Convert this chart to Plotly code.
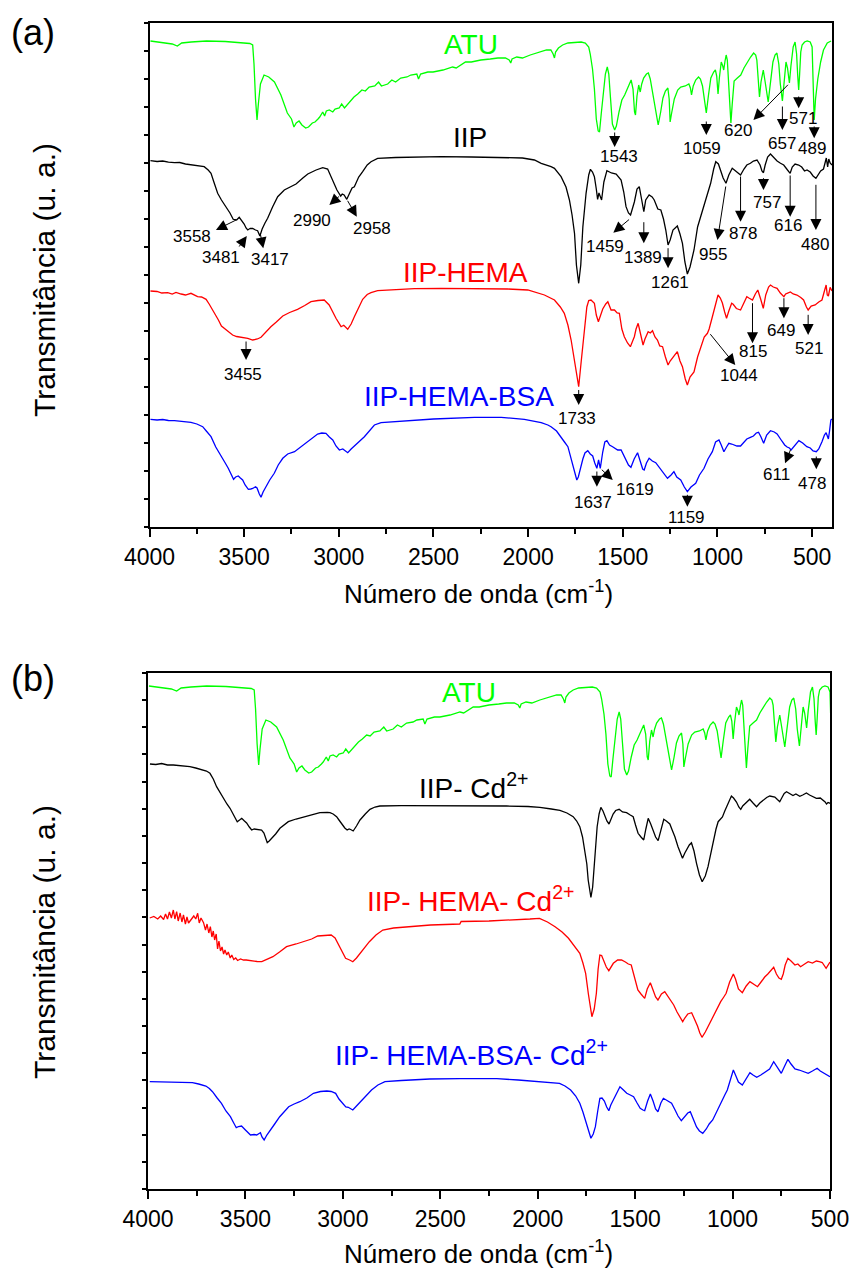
import plotly.graph_objects as go

# ---------------------------------------------------------------
# FTIR spectra: (wavenumber cm-1, transmittance in arbitrary units)
# ---------------------------------------------------------------

ATU = [
    (3995, 503), (3960, 502), (3920, 501), (3880, 500), (3853, 498), (3830, 501),
    (3780, 502), (3699, 503), (3600, 502.5), (3528, 501.7), (3470, 500.5), (3455, 499),
    (3448, 480), (3440, 445), (3432, 424), (3425, 440), (3414, 460), (3395, 469),
    (3370, 467), (3340, 462), (3306, 449), (3272, 431), (3250, 425), (3237, 417),
    (3225, 421), (3210, 423), (3195, 419), (3175, 416), (3160, 417), (3140, 421),
    (3126, 422), (3110, 425), (3101, 427), (3085, 432), (3075, 428), (3066, 433),
    (3050, 434), (3032, 432), (3020, 435), (2998, 436), (2985, 440), (2970, 436),
    (2947, 441), (2920, 447), (2900, 450), (2878, 454), (2860, 453), (2840, 457),
    (2810, 458), (2790, 462), (2775, 458), (2742, 460), (2720, 464), (2700, 462),
    (2673, 466), (2640, 467), (2620, 469), (2600, 470), (2588, 470), (2579, 465),
    (2568, 470), (2530, 472), (2502, 472), (2450, 474), (2399, 477), (2380, 476),
    (2331, 482), (2300, 482), (2250, 484), (2200, 485), (2160, 486), (2120, 486),
    (2100, 484), (2092, 481), (2085, 485), (2060, 487), (2030, 486), (1989, 489),
    (1940, 492), (1903, 494), (1880, 494), (1868, 490), (1861, 486), (1855, 492),
    (1840, 496), (1818, 499), (1790, 501), (1750, 502), (1720, 502), (1698, 501),
    (1680, 497), (1672, 490), (1660, 475), (1650, 455), (1640, 425), (1630, 413),
    (1623, 412), (1614, 430), (1604, 452), (1592, 470), (1582, 477), (1574, 470),
    (1565, 446), (1555, 420), (1543, 414), (1534, 418), (1520, 432), (1505, 444),
    (1490, 449), (1470, 458), (1456, 464), (1446, 455), (1438, 432), (1433, 429),
    (1425, 448), (1416, 459), (1408, 452), (1400, 460), (1390, 466), (1375, 470),
    (1365, 471), (1355, 465), (1343, 452), (1328, 432), (1313, 419), (1300, 432),
    (1288, 446), (1275, 453), (1262, 456), (1255, 445), (1250, 422), (1243, 430),
    (1228, 445), (1210, 454), (1194, 457), (1170, 458), (1151, 460), (1143, 456),
    (1137, 449), (1128, 458), (1115, 464), (1100, 467), (1090, 465), (1079, 458),
    (1070, 444), (1059, 431), (1048, 448), (1035, 466), (1020, 472), (1011, 474),
    (1004, 468), (997, 450), (990, 466), (980, 482), (972, 478), (967, 474),
    (960, 483), (954, 489), (948, 484), (943, 468), (936, 440), (929, 421),
    (922, 440), (912, 463), (895, 466), (877, 469), (860, 476), (843, 482),
    (825, 487), (809, 491), (798, 489), (792, 484), (785, 465), (778, 447),
    (770, 462), (758, 474), (748, 462), (740, 450), (732, 442), (724, 455),
    (715, 472), (707, 482), (696, 489), (686, 491), (676, 480), (668, 460),
    (657, 443), (650, 458), (645, 472), (638, 482), (630, 476), (620, 461),
    (612, 478), (600, 497), (590, 502), (582, 490), (576, 468), (571, 454),
    (566, 470), (560, 492), (553, 499), (540, 502), (526, 503), (510, 502),
    (500, 497), (494, 460), (489, 424), (482, 445), (470, 465), (455, 482),
    (440, 494), (420, 501), (400, 503),
]

IIP = [
    (3995, 366.3), (3960, 365.5), (3930, 366), (3900, 364.8), (3868, 364.3), (3840, 364.5),
    (3810, 363), (3781, 362), (3750, 361.5), (3711, 360.3), (3690, 357), (3675, 353.7),
    (3660, 345), (3640, 333.7), (3620, 327), (3596, 320.3), (3575, 314), (3558, 307.7),
    (3540, 307), (3526, 309.7), (3512, 306), (3500, 303), (3490, 299), (3481, 297),
    (3468, 298.7), (3455, 298.5), (3440, 297), (3429, 296.3), (3417, 291), (3405, 298),
    (3390, 304), (3376, 308.7), (3350, 320), (3323, 330.3), (3288, 337), (3260, 340),
    (3226, 343), (3190, 349), (3164, 353), (3120, 357), (3085, 359.3), (3059, 358),
    (3040, 350), (3023, 343.7), (3010, 337), (2990, 331), (2982, 333), (2972, 332),
    (2958, 327.7), (2945, 333), (2930, 339), (2918, 340.3), (2895, 350), (2874, 355.3),
    (2850, 362), (2830, 365.3), (2795, 368.7), (2700, 369.5), (2600, 370), (2460, 370.3),
    (2300, 370), (2108, 369.7), (2030, 369), (1967, 367), (1931, 363.7), (1879, 360.3),
    (1861, 358.7), (1826, 350.3), (1800, 340), (1782, 327), (1768, 312), (1755, 293.7),
    (1745, 262), (1733, 243.7), (1722, 262), (1711, 300), (1700, 325), (1694, 333.7),
    (1680, 352), (1671, 357.7), (1660, 355), (1650, 350.3), (1640, 338), (1633, 327.7),
    (1626, 334), (1619, 330), (1612, 327), (1600, 345), (1584, 356.3), (1560, 354),
    (1535, 353), (1509, 347), (1495, 335), (1483, 320.3), (1470, 314), (1459, 312),
    (1449, 318), (1439, 325), (1425, 338), (1413, 340.3), (1400, 327), (1389, 315.3),
    (1379, 327), (1361, 332), (1345, 330), (1334, 327), (1315, 318), (1299, 317),
    (1285, 308), (1273, 297), (1261, 282), (1250, 287), (1235, 297), (1212, 301),
    (1198, 293), (1185, 283.7), (1172, 265), (1159, 253), (1145, 260), (1124, 277),
    (1105, 300), (1088, 310.3), (1062, 327.7), (1036, 343.7), (1020, 358), (1009, 365.3),
    (995, 363), (983, 357), (970, 349), (955, 343.7), (940, 352), (922, 358.7),
    (905, 356), (890, 354), (878, 352), (860, 358), (845, 362), (826, 363.7),
    (810, 366), (791, 367), (775, 362), (765, 356), (757, 354.3), (748, 362),
    (735, 370), (720, 373), (700, 369), (685, 366), (667, 363.7), (650, 362),
    (630, 357), (616, 353.7), (605, 360), (590, 363), (571, 362), (555, 360),
    (540, 356), (527, 357), (510, 355), (495, 351), (480, 348.7), (470, 352),
    (455, 356), (440, 358), (430, 366), (425, 369), (418, 360), (412, 368),
    (405, 364), (395, 362),
]

IIP_HEMA = [
    (3995, 236), (3960, 235.5), (3935, 234), (3904, 234.3), (3880, 233), (3860, 234.5),
    (3833, 233), (3810, 232), (3781, 233.7), (3765, 232), (3746, 230.3), (3725, 230),
    (3701, 227.7), (3685, 223), (3666, 217), (3650, 212), (3636, 207), (3620, 201),
    (3605, 198.7), (3585, 195), (3561, 192), (3540, 190.5), (3516, 189.7), (3481, 188.7),
    (3455, 187), (3430, 188), (3411, 189.7), (3385, 195), (3359, 200.3), (3330, 205),
    (3296, 211), (3260, 214.5), (3218, 217.7), (3180, 221.5), (3147, 225.3), (3110, 226.5),
    (3077, 227), (3051, 222), (3030, 214), (3015, 208.7), (2988, 200.3), (2974, 201.7),
    (2953, 197.7), (2935, 203), (2918, 210.3), (2895, 220), (2874, 227.7), (2850, 232.5),
    (2830, 234.3), (2795, 236.3), (2700, 237.5), (2600, 238.3), (2460, 238.7), (2300, 238.5),
    (2108, 238), (2002, 237), (1950, 234.5), (1914, 232), (1861, 227), (1830, 220),
    (1809, 213.7), (1790, 202), (1773, 187), (1760, 172), (1747, 160.3), (1733, 140.3),
    (1720, 165), (1703, 200), (1690, 220), (1680, 226.5), (1668, 227), (1650, 223.7),
    (1640, 212), (1629, 205.3), (1618, 212), (1606, 218), (1590, 223), (1579, 225.3),
    (1562, 217), (1544, 217), (1530, 214), (1518, 213.7), (1505, 198), (1492, 190.3),
    (1475, 184), (1460, 180.3), (1448, 186), (1439, 190.3), (1430, 198), (1419, 203.7),
    (1405, 192), (1393, 182), (1383, 188), (1366, 195.3), (1355, 194), (1343, 196.3),
    (1330, 190), (1317, 187), (1305, 181), (1290, 180.3), (1275, 170), (1261, 162),
    (1250, 166), (1238, 168.7), (1225, 172), (1212, 175.3), (1198, 166), (1185, 160.3),
    (1170, 148), (1159, 142), (1145, 150), (1124, 155), (1105, 170), (1088, 180.3),
    (1070, 190), (1053, 193.7), (1044, 198), (1030, 208), (1018, 217), (1008, 226),
    (997, 232), (985, 229), (974, 224), (962, 215), (952, 208.7), (940, 216),
    (925, 223.7), (917, 222.7), (900, 218.5), (878, 217), (860, 225), (845, 230.3),
    (834, 229), (815, 227), (800, 233), (787, 237), (772, 228), (758, 218.7),
    (745, 232), (730, 240), (720, 242), (705, 240), (685, 238.7), (668, 234),
    (649, 230.3), (640, 233), (632, 233.7), (615, 235), (600, 233), (580, 232),
    (560, 229.5), (545, 227), (530, 220), (521, 217), (505, 221), (484, 222),
    (465, 225), (448, 227), (435, 236), (426, 242), (420, 232), (414, 231),
    (405, 239.7), (395, 236),
]

IIP_HEMA_BSA = [
    (3995, 107.7), (3960, 107), (3930, 107.5), (3900, 106.5), (3868, 106.3), (3830, 105.5),
    (3781, 104.7), (3750, 103), (3719, 100.3), (3700, 96), (3675, 90.3), (3650, 80),
    (3622, 70.3), (3600, 64), (3584, 58.7), (3570, 53), (3556, 47.7), (3545, 50),
    (3531, 51), (3520, 49), (3508, 47), (3495, 42), (3478, 37.7), (3465, 38),
    (3455, 38.5), (3440, 40.3), (3432, 39), (3420, 33), (3411, 29.7), (3400, 35),
    (3385, 40.3), (3365, 47), (3341, 53.7), (3320, 62), (3296, 68.7), (3270, 73),
    (3234, 75.3), (3200, 80), (3164, 85.3), (3140, 89), (3112, 93), (3090, 94),
    (3068, 93.7), (3050, 90), (3032, 87), (3015, 81), (2997, 77), (2979, 78),
    (2965, 76), (2953, 74.3), (2935, 78), (2918, 80.7), (2895, 85), (2865, 90.3),
    (2840, 96), (2812, 102), (2777, 104.3), (2700, 105.5), (2635, 106.3), (2500, 108),
    (2283, 109.7), (2142, 109.7), (2020, 107.7), (1931, 104.3), (1896, 102), (1879, 100.3),
    (1850, 96), (1826, 90.3), (1808, 85), (1790, 80.3), (1775, 70), (1764, 62),
    (1752, 52), (1743, 47), (1735, 50), (1727, 57), (1711, 68), (1700, 74),
    (1685, 76.3), (1672, 73), (1659, 71), (1648, 64), (1637, 58.7), (1628, 67),
    (1619, 58.7), (1606, 75), (1595, 85), (1584, 86.3), (1570, 82), (1554, 80.3),
    (1540, 79), (1527, 77), (1509, 77), (1495, 71), (1483, 67), (1470, 62),
    (1457, 59.7), (1440, 68), (1422, 74.3), (1405, 64), (1395, 58), (1387, 57),
    (1375, 64), (1361, 68.7), (1344, 66), (1326, 64.3), (1310, 60), (1299, 57),
    (1280, 52), (1264, 48.7), (1245, 52), (1230, 55.3), (1215, 50), (1194, 47),
    (1175, 40), (1159, 35.3), (1140, 40), (1115, 43.7), (1095, 52), (1071, 58.7),
    (1050, 68), (1027, 75.3), (1010, 85), (992, 87), (980, 82), (966, 75.3),
    (952, 80), (940, 83.7), (925, 83), (913, 82), (897, 81), (878, 81),
    (860, 85), (845, 88), (826, 89.7), (810, 91), (795, 94), (783, 94.7),
    (770, 90), (756, 83.7), (740, 92), (720, 96.3), (700, 95), (685, 93),
    (660, 86), (645, 82), (632, 80), (620, 79), (611, 77), (598, 80),
    (585, 84), (570, 86.3), (550, 84), (528, 80.3), (510, 79), (495, 76),
    (478, 75.3), (465, 78), (448, 85.3), (435, 92), (426, 94.3), (414, 88),
    (408, 96), (401, 107), (395, 108),
]

IIP_CD = [
    (3990, 425), (3960, 424.5), (3930, 425.5), (3900, 424), (3870, 424), (3840, 423.5),
    (3810, 422.8), (3785, 422.3), (3755, 421), (3725, 419.7), (3700, 418), (3682, 415.7),
    (3665, 410), (3648, 402.3), (3630, 396), (3614, 390.7), (3595, 385), (3579, 380.7),
    (3560, 374), (3542, 367.3), (3530, 369), (3519, 370.7), (3505, 368), (3494, 366),
    (3480, 362), (3468, 359), (3455, 360), (3442, 359.5), (3430, 359), (3417, 359),
    (3405, 356), (3396, 351), (3388, 346.3), (3378, 348), (3365, 350.7), (3345, 355),
    (3323, 360.7), (3300, 364), (3280, 367.3), (3240, 370), (3203, 371.7), (3160, 374),
    (3118, 376.3), (3080, 376.5), (3066, 376.3), (3050, 375), (3032, 372.3), (3020, 369),
    (3006, 365), (2990, 361), (2978, 359), (2968, 360), (2960, 359.5), (2947, 358),
    (2930, 363), (2912, 369), (2885, 375), (2861, 379.7), (2835, 382), (2810, 383),
    (2700, 383.3), (2502, 383.3), (2300, 383), (2160, 383), (2050, 382.5), (1989, 381.7),
    (1930, 380), (1886, 378.7), (1850, 376), (1818, 372.3), (1800, 368), (1784, 362.3),
    (1770, 352), (1758, 339), (1748, 325), (1741, 309), (1727, 291.7), (1718, 302),
    (1712, 319), (1703, 342), (1695, 362.3), (1685, 375), (1676, 381.7), (1665, 378),
    (1656, 374), (1645, 368), (1634, 365), (1623, 370), (1613, 375), (1600, 378.5),
    (1582, 379.7), (1565, 377), (1544, 376.3), (1525, 374), (1510, 372.3), (1498, 364),
    (1485, 355.7), (1470, 352), (1456, 349), (1445, 360), (1433, 370.7), (1420, 365),
    (1408, 359), (1395, 352), (1382, 348.3), (1368, 360), (1353, 369.7), (1340, 368),
    (1322, 365), (1310, 359), (1296, 352.3), (1280, 342.3), (1268, 336), (1257, 330.7),
    (1245, 336), (1233, 340.7), (1222, 344), (1211, 346.3), (1198, 338), (1185, 325.7),
    (1170, 314), (1156, 307.3), (1140, 313), (1126, 322.3), (1112, 336), (1100, 349),
    (1085, 360), (1074, 367.3), (1060, 371), (1052, 372), (1040, 378), (1031, 382.3),
    (1018, 389), (1006, 393), (995, 391), (980, 387), (968, 382), (958, 379.7),
    (948, 383), (937, 385), (925, 387.5), (912, 389.7), (895, 386), (877, 382.3),
    (860, 386), (843, 389), (825, 391.5), (809, 393), (795, 392.5), (783, 392),
    (770, 389.5), (758, 387.3), (745, 392), (735, 395.5), (723, 397.3), (705, 395),
    (690, 393.5), (675, 395), (655, 392.7), (640, 394), (621, 396), (605, 394),
    (590, 392.5), (570, 390.7), (550, 391), (536, 389), (525, 387), (518, 385),
    (510, 386.5), (500, 385.7),
]

IIP_HEMA_CD = [
    (3991, 271), (3970, 272.5), (3950, 270), (3935, 273), (3920, 269.5), (3910, 275),
    (3900, 270), (3890, 277), (3880, 271), (3870, 279), (3862, 270), (3853, 277.3),
    (3845, 268), (3835, 276), (3826, 267), (3818, 274), (3808, 265), (3800, 272),
    (3792, 266), (3785, 268), (3775, 271), (3765, 273), (3755, 270), (3745, 275.7),
    (3737, 266), (3728, 271), (3715, 266.3), (3705, 259), (3697, 265), (3688, 256),
    (3680, 262.3), (3672, 252), (3665, 258), (3658, 249), (3650, 255), (3643, 240),
    (3636, 248), (3628, 238), (3620, 242), (3612, 235), (3605, 239), (3596, 234),
    (3588, 237), (3578, 231), (3570, 234), (3560, 229.5), (3550, 231), (3540, 228.5),
    (3525, 230), (3510, 229), (3496, 229), (3470, 228), (3440, 227.5), (3416, 227.3),
    (3390, 229.5), (3359, 232.3), (3325, 237), (3289, 242.3), (3240, 245), (3198, 247.3),
    (3160, 250), (3129, 253), (3095, 253.7), (3060, 254), (3040, 251), (3025, 245.7),
    (3005, 238), (2986, 230.7), (2965, 229), (2949, 227.3), (2930, 231), (2910, 235.7),
    (2885, 242), (2864, 247.3), (2830, 254), (2795, 259), (2740, 261), (2669, 262.3),
    (2550, 264), (2400, 265), (2393, 267.5), (2250, 268), (2094, 269), (2040, 270),
    (1991, 270.7), (1950, 267), (1911, 262.3), (1875, 257), (1842, 250.7), (1810, 243),
    (1784, 235.7), (1768, 226), (1754, 215.7), (1740, 195), (1722, 172.3), (1710, 180),
    (1699, 195.7), (1690, 220), (1681, 234), (1672, 233.5), (1660, 228), (1648, 222),
    (1635, 218.3), (1625, 222), (1612, 225.7), (1590, 229), (1570, 229), (1550, 227),
    (1535, 225), (1520, 224), (1505, 212), (1486, 199), (1470, 195), (1451, 190.7),
    (1438, 200), (1422, 206.3), (1410, 200), (1395, 192), (1383, 189), (1365, 195),
    (1348, 197.3), (1330, 192), (1315, 187.5), (1302, 184), (1285, 177), (1270, 172),
    (1256, 167.3), (1245, 171), (1230, 175), (1210, 176.3), (1195, 170), (1180, 163),
    (1168, 156), (1157, 151.7), (1140, 157), (1125, 163), (1107, 169), (1085, 178),
    (1061, 187.3), (1045, 192), (1033, 195.7), (1015, 207), (996, 215), (985, 210),
    (970, 200), (950, 196.3), (930, 203), (911, 207.3), (890, 205), (872, 202.3),
    (850, 208), (835, 212), (819, 215), (800, 219), (789, 221.7), (775, 215),
    (762, 211), (750, 209.7), (740, 215), (730, 224), (716, 230.7), (700, 228),
    (680, 224), (665, 225), (651, 222.3), (630, 225), (612, 227.3), (590, 226),
    (570, 228), (555, 227.3), (540, 226.5), (520, 220.7), (510, 224), (500, 227),
]

IIP_HEMA_BSA_CD = [
    (3991, 107.3), (3950, 107), (3900, 106.8), (3850, 106.5), (3800, 106.5), (3772, 106.3),
    (3740, 105), (3703, 103), (3685, 100.5), (3669, 97.3), (3645, 91), (3623, 85.7),
    (3600, 78), (3577, 72.3), (3560, 66), (3547, 61.3), (3535, 62.5), (3520, 63),
    (3500, 59), (3474, 54), (3455, 54.5), (3442, 54), (3430, 55.5), (3423, 56.3),
    (3415, 52), (3404, 49), (3390, 54), (3377, 57.3), (3350, 65), (3324, 72.3),
    (3300, 78), (3278, 82.3), (3250, 85), (3221, 87.3), (3185, 91), (3151, 95.7),
    (3115, 97.5), (3082, 98), (3060, 97.5), (3037, 95.7), (3020, 90), (3002, 85.7),
    (2985, 82), (2972, 81.7), (2960, 80), (2949, 79), (2930, 83), (2910, 87.3),
    (2880, 93), (2853, 99), (2820, 104), (2784, 107.3), (2700, 108.5), (2554, 110),
    (2400, 110.3), (2210, 110.3), (2100, 109), (1980, 107.3), (1930, 107), (1888, 105.7),
    (1860, 103), (1831, 99), (1805, 93), (1784, 85.7), (1768, 77), (1750, 65.7),
    (1738, 56), (1727, 50.7), (1715, 55), (1704, 62.3), (1692, 78), (1681, 90.7),
    (1670, 91), (1658, 88), (1646, 82), (1635, 78.3), (1625, 84), (1612, 89),
    (1595, 97), (1578, 102.3), (1560, 99), (1543, 95.7), (1525, 94), (1508, 92.3),
    (1490, 86), (1474, 80.7), (1460, 79), (1451, 78.3), (1436, 88), (1422, 95),
    (1408, 88), (1395, 80), (1383, 77.3), (1368, 86), (1355, 90.7), (1335, 88),
    (1313, 85.7), (1295, 79), (1280, 73), (1263, 68.3), (1245, 72), (1230, 76),
    (1217, 77.3), (1200, 68), (1185, 62), (1170, 58), (1153, 55.7), (1135, 60),
    (1120, 65), (1102, 69), (1080, 78), (1056, 89), (1040, 94), (1027, 99),
    (1010, 110), (996, 119), (985, 114), (970, 107), (950, 104), (930, 110),
    (911, 116.3), (895, 114), (876, 111.7), (855, 114), (830, 117.3), (810, 120),
    (789, 127.3), (770, 121), (750, 115.7), (735, 122), (716, 129.7), (700, 125),
    (680, 120), (658, 119), (635, 117), (612, 115.7), (590, 118), (566, 120.7),
    (550, 118), (532, 115.7), (515, 114), (500, 112.3),
]

# vertical stacking offset of the ATU reference spectrum in panel (a)
ATU_SHIFT_A = -17

GREEN, RED, BLUE, BLACK = "#00ff00", "#ff0000", "#0000ff", "#000000"
FONT = "Arial, Liberation Sans, sans-serif"

fig = go.Figure()


def add_spectrum(spec, color, xa, ya, shift=0.0):
    fig.add_trace(go.Scatter(
        x=[p[0] for p in spec], y=[p[1] + shift for p in spec],
        mode="lines", line=dict(color=color, width=1.3),
        xaxis=xa, yaxis=ya, hoverinfo="skip", showlegend=False,
    ))


# panel (a)
add_spectrum(ATU, GREEN, "x", "y", ATU_SHIFT_A)
add_spectrum(IIP, BLACK, "x", "y")
add_spectrum(IIP_HEMA, RED, "x", "y")
add_spectrum(IIP_HEMA_BSA, BLUE, "x", "y")
# panel (b)
add_spectrum(ATU, GREEN, "x2", "y2")
add_spectrum(IIP_CD, BLACK, "x2", "y2")
add_spectrum(IIP_HEMA_CD, RED, "x2", "y2")
add_spectrum(IIP_HEMA_BSA_CD, BLUE, "x2", "y2")

W, H = 852, 1276

axis_common = dict(
    showgrid=False, zeroline=False, showline=True, linecolor="black",
    linewidth=2, mirror=True, ticks="outside", tickcolor="black",
    automargin=False,
)

xticks = dict(
    tickmode="linear", tick0=0, dtick=500, ticklen=8, tickwidth=2,
    tickfont=dict(family=FONT, size=23, color="black"),
    minor=dict(ticks="outside", dtick=250, ticklen=5, tickwidth=1.5, tickcolor="black"),
)

fig.update_layout(
    width=W, height=H, margin=dict(l=0, r=0, t=0, b=0, autoexpand=False),
    paper_bgcolor="white", plot_bgcolor="white",
    xaxis=dict(domain=[149.5 / W, 832 / W], anchor="y", range=[4000, 395],
               **axis_common, **xticks),
    yaxis=dict(domain=[1 - 527 / H, 1 - 23 / H], anchor="x", range=[0, 504],
               tickmode="linear", tick0=0, dtick=28, ticklen=4, tickwidth=1.5,
               showticklabels=False, **axis_common),
    xaxis2=dict(domain=[148 / W, 830 / W], anchor="y2", range=[4000, 500],
                **axis_common, **xticks),
    yaxis2=dict(domain=[1 - 1189 / H, 1 - 673 / H], anchor="x2", range=[0, 516],
                tickmode="linear", tick0=0, dtick=516 / 19, ticklen=4, tickwidth=1.5,
                showticklabels=False, **axis_common),
)

annotations = []

# sample names
names = [
    ("ATU", 2304, 482.5, GREEN, "a"),
    ("IIP", 2307, 390, BLACK, "a"),
    ("IIP-HEMA", 2331, 255, RED, "a"),
    ("IIP-HEMA-BSA", 2365, 130.5, BLUE, "a"),
    ("ATU", 2353, 496, GREEN, "b"),
    ("IIP- Cd<sup>2+</sup>", 2330, 403, BLACK, "b"),
    ("IIP- HEMA- Cd<sup>2+</sup>", 2343, 290, RED, "b"),
    ("IIP- HEMA-BSA- Cd<sup>2+</sup>", 2338, 136, BLUE, "b"),
]
for text, x, y, color, panel in names:
    xr, yr = ("x", "y") if panel == "a" else ("x2", "y2")
    annotations.append(dict(
        text=text, x=x, y=y, xref=xr, yref=yr, showarrow=False,
        xanchor="center", yanchor="middle",
        font=dict(family=FONT, size=28, color=color),
    ))

# peak call-outs in panel (a): label, text position, arrow tail, arrow tip
callouts = [
    ("1543", 1520, 370.3, 1543, 396, 1543, 380),
    ("1059", 1083, 378.7, 1059, 407, 1059, 392),
    ("620", 889, 397, 620, 443.7, 810, 407),
    ("657", 660, 383.7, 657, 422, 657, 397),
    ("571", 546, 408.7, 571, 432, 571, 418.7),
    ("489", 501, 378.7, 489, 402, 489, 388.7),
    ("3558", 3777, 290.3, 3535, 307.7, 3649, 297),
    ("3481", 3624, 269.7, 3532, 279, 3486, 291),
    ("3417", 3363, 267.7, 3417, 295.3, 3399, 278.7),
    ("2990", 3143, 306.3, 2990, 332, 3050, 322),
    ("2958", 2823, 298.3, 2958, 327.7, 2905, 310.3),
    ("1459", 1594, 281, 1459, 308.7, 1550, 294.3),
    ("1389", 1391, 269.7, 1389, 306.3, 1389, 283.7),
    ("1261", 1250, 244.3, 1261, 280.3, 1261, 258.7),
    ("955", 1021, 273, 955, 342, 1000, 287),
    ("878", 863, 293.7, 878, 352, 878, 305.3),
    ("757", 739, 324.7, 757, 350.3, 757, 337),
    ("616", 628, 302, 616, 353, 616, 310.3),
    ("480", 484, 282.7, 480, 343.7, 480, 297),
    ("1044", 886, 152, 1044, 194.3, 906, 162),
    ("815", 810, 175.3, 815, 225.3, 815, 183.7),
    ("649", 665, 197, 649, 230.3, 649, 208.7),
    ("521", 514, 178.7, 521, 213.7, 521, 192),
    ("1733", 1740, 108.7, 1733, 138.5, 1733, 122),
    ("3455", 3504, 153, 3490, 187, 3490, 167),
    ("1637", 1655, 24.3, 1637, 57, 1637, 40.3),
    ("1619", 1435, 37.7, 1619, 58.7, 1553, 47),
    ("1159", 1162, 9.7, 1159, 33.7, 1159, 20.3),
    ("611", 690, 52.7, 611, 78.7, 643, 63.7),
    ("478", 502, 43.7, 478, 72, 478, 57.7),
]
for text, tx, ty, x0, y0, x1, y1 in callouts:
    annotations.append(dict(
        text=text, x=tx, y=ty, xref="x", yref="y", showarrow=False,
        xanchor="center", yanchor="middle",
        font=dict(family=FONT, size=17, color="black"),
    ))
    annotations.append(dict(
        text="", x=x1, y=y1, xref="x", yref="y",
        ax=x0, ay=y0, axref="x", ayref="y",
        showarrow=True, arrowhead=2, arrowsize=2.2, arrowwidth=1,
        arrowcolor="black", standoff=0, startstandoff=0,
    ))

# panel tags and axis titles
for tag, ypix in (("(a)", 33), ("(b)", 678)):
    annotations.append(dict(
        text=tag, x=9 / W, y=1 - ypix / H, xref="paper", yref="paper",
        showarrow=False, xanchor="left", yanchor="middle",
        font=dict(family=FONT, size=36, color="black"),
    ))
for ypix in (592, 1252):
    annotations.append(dict(
        text="Número de onda (cm<sup>-1</sup>)", x=478 / W, y=1 - ypix / H,
        xref="paper", yref="paper", showarrow=False,
        xanchor="center", yanchor="middle",
        font=dict(family=FONT, size=26, color="black"),
    ))
for ypix in (280, 942):
    annotations.append(dict(
        text="Transmitância (u. a.)", x=44 / W, y=1 - ypix / H,
        xref="paper", yref="paper", showarrow=False, textangle=-90,
        xanchor="center", yanchor="middle",
        font=dict(family=FONT, size=30, color="black"),
    ))

fig.update_layout(annotations=annotations)
fig.write_html("out.html")
